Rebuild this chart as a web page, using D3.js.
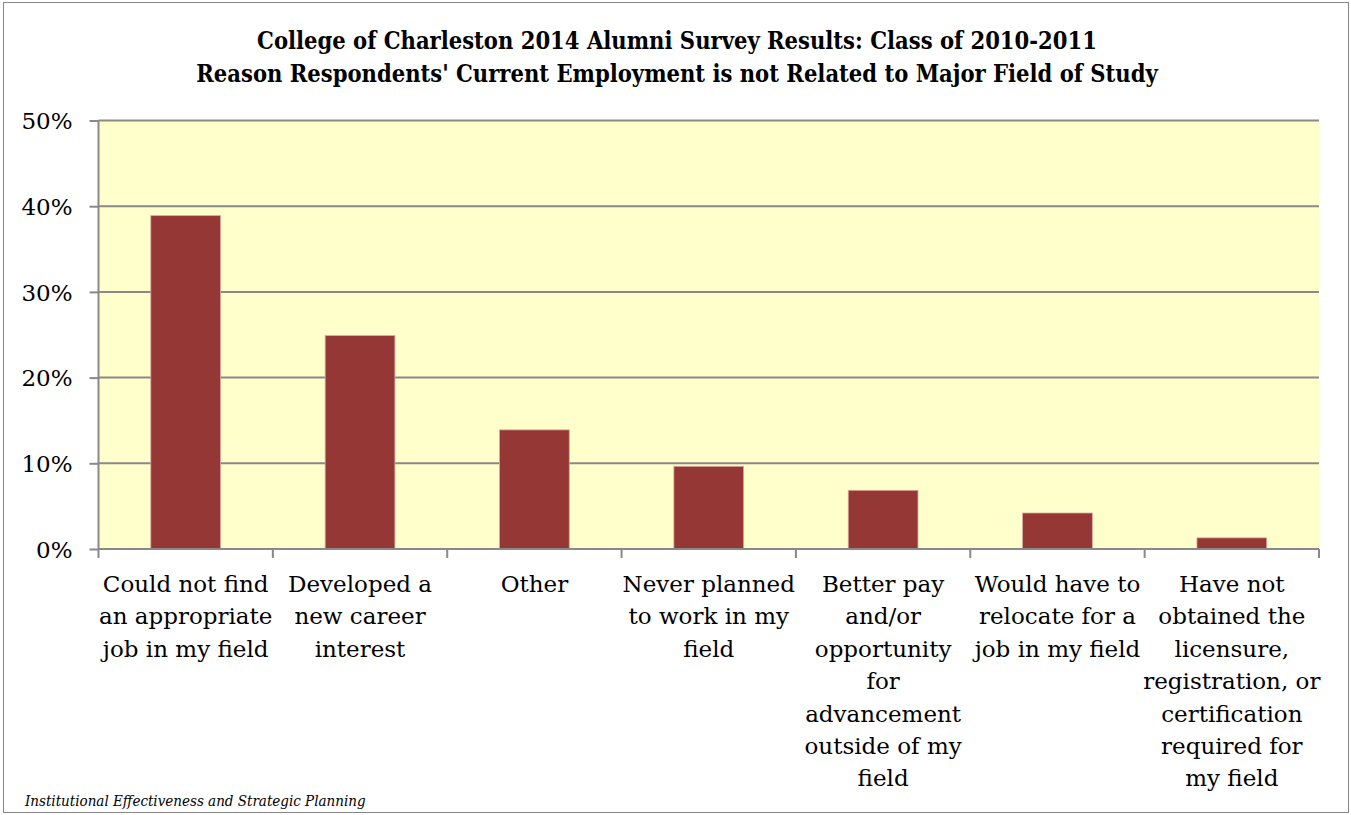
<!DOCTYPE html>
<html>
<head>
<meta charset="utf-8">
<script src="https://cdn.jsdelivr.net/npm/d3@7"></script>
<style>
  html, body { margin: 0; padding: 0; background: #fff; }
  #chart { position: relative; width: 1351px; height: 815px; }
  #frame { position: absolute; left: 3px; top: 2px; width: 1344px; height: 809px; border: 1.5px solid #868686; }
  svg { display: block; position: absolute; left: 0; top: 0; }
</style>
</head>
<body>
<div id="chart"><div id="frame"></div></div>
<script>
const titleLines = [
  'College of Charleston 2014 Alumni Survey Results: Class of 2010-2011',
  "Reason Respondents' Current Employment is not Related to Major Field of Study"
];
const categories = [
  'Could not find\nan appropriate\njob in my field',
  'Developed a\nnew career\ninterest',
  'Other',
  'Never planned\nto work in my\nfield',
  'Better pay\nand/or\nopportunity\nfor\nadvancement\noutside of my\nfield',
  'Would have to\nrelocate for a\njob in my field',
  'Have not\nobtained the\nlicensure,\nregistration, or\ncertification\nrequired for\nmy field'
];
const values = [0.389, 0.249, 0.139, 0.0965, 0.0685, 0.042, 0.013];
const yTicks = [0, 0.1, 0.2, 0.3, 0.4, 0.5];
const footer = 'Institutional Effectiveness and Strategic Planning';

const width = 1351, height = 815;
const margin = { top: 120.5, right: 32, bottom: 266, left: 98.5 };
const innerWidth = width - margin.left - margin.right;
const innerHeight = height - margin.top - margin.bottom;
const serif = 'DejaVu Serif, serif';
const serifNarrow = '"DejaVu Serif Condensed", "DejaVu Serif", serif';

const svg = d3.select('#chart')
  .append('svg')
  .attr('width', width)
  .attr('height', height);

// title (y = line centre)
svg.append('g')
  .selectAll('text')
  .data(titleLines)
  .enter()
  .append('text')
  .attr('x', 677)
  .attr('y', (d, i) => 41 + i * 33)
  .attr('dy', '0.35em')
  .attr('text-anchor', 'middle')
  .style('font-family', serifNarrow)
  .style('font-stretch', 'condensed')
  .style('font-weight', 'bold')
  .style('font-size', '23.5px')
  .style('fill', '#000')
  .text(d => d);

const g = svg.append('g')
  .attr('transform', `translate(${margin.left},${margin.top})`);

const x = d3.scaleBand()
  .domain(categories)
  .range([0, innerWidth])
  .paddingInner(0.6)
  .paddingOuter(0.3);

const y = d3.scaleLinear().domain([0, 0.5]).range([innerHeight, 0]);

// plot background
g.append('rect')
  .attr('width', innerWidth)
  .attr('height', innerHeight)
  .attr('fill', '#ffffcc');

// gridlines
g.append('g')
  .selectAll('line')
  .data(yTicks.slice(1))
  .enter()
  .append('line')
  .attr('x1', 0)
  .attr('x2', innerWidth)
  .attr('y1', d => y(d))
  .attr('y2', d => y(d))
  .attr('stroke', '#898989')
  .attr('stroke-width', 2);

// bars
g.selectAll('.bar')
  .data(values)
  .enter()
  .append('rect')
  .attr('class', 'bar')
  .attr('x', (d, i) => x(categories[i]))
  .attr('y', d => y(d))
  .attr('width', x.bandwidth())
  .attr('height', d => innerHeight - y(d))
  .attr('fill', '#953735')
  .attr('stroke', '#d9a8a0')
  .attr('stroke-width', 0.8);

// y axis
const yAxis = g.append('g')
  .call(d3.axisLeft(y).tickValues(yTicks).tickFormat(d3.format('.0%')).tickSize(9).tickPadding(17));
yAxis.select('.domain').attr('stroke', '#898989').attr('stroke-width', 2).attr('d', `M0,0V${innerHeight}`);
yAxis.selectAll('.tick line').attr('stroke', '#898989').attr('stroke-width', 2);
yAxis.selectAll('text')
  .attr('dy', '0.36em')
  .style('font-family', serif)
  .style('font-size', '23px')
  .style('fill', '#000');

// x axis (ticks on category boundaries)
const boundaries = d3.range(categories.length + 1).map(i => i * innerWidth / categories.length);
const xAxis = g.append('g').attr('transform', `translate(0,${innerHeight})`);
xAxis.append('line')
  .attr('x1', 0).attr('x2', innerWidth)
  .attr('stroke', '#898989').attr('stroke-width', 2);
xAxis.selectAll('.xtick')
  .data(boundaries)
  .enter()
  .append('line')
  .attr('class', 'xtick')
  .attr('x1', d => d).attr('x2', d => d)
  .attr('y1', 0).attr('y2', 9)
  .attr('stroke', '#898989').attr('stroke-width', 2);

// category labels, one text per line (y = line centre)
const labelLines = categories.flatMap(c =>
  c.split('\n').map((line, i) => ({ cat: c, line, i })));
xAxis.selectAll('.xlabel')
  .data(labelLines)
  .enter()
  .append('text')
  .attr('class', 'xlabel')
  .attr('text-anchor', 'middle')
  .attr('x', d => x(d.cat) + x.bandwidth() / 2)
  .attr('y', d => 35 + d.i * 32.4)
  .attr('dy', '0.35em')
  .style('font-family', serif)
  .style('font-size', '23px')
  .style('fill', '#000')
  .text(d => d.line);

// footer
svg.append('text')
  .attr('x', 25)
  .attr('y', 801)
  .attr('dy', '0.35em')
  .style('font-family', serifNarrow)
  .style('font-stretch', 'condensed')
  .style('font-style', 'italic')
  .style('font-size', '15px')
  .style('fill', '#000')
  .text(footer);
</script>
</body>
</html>
